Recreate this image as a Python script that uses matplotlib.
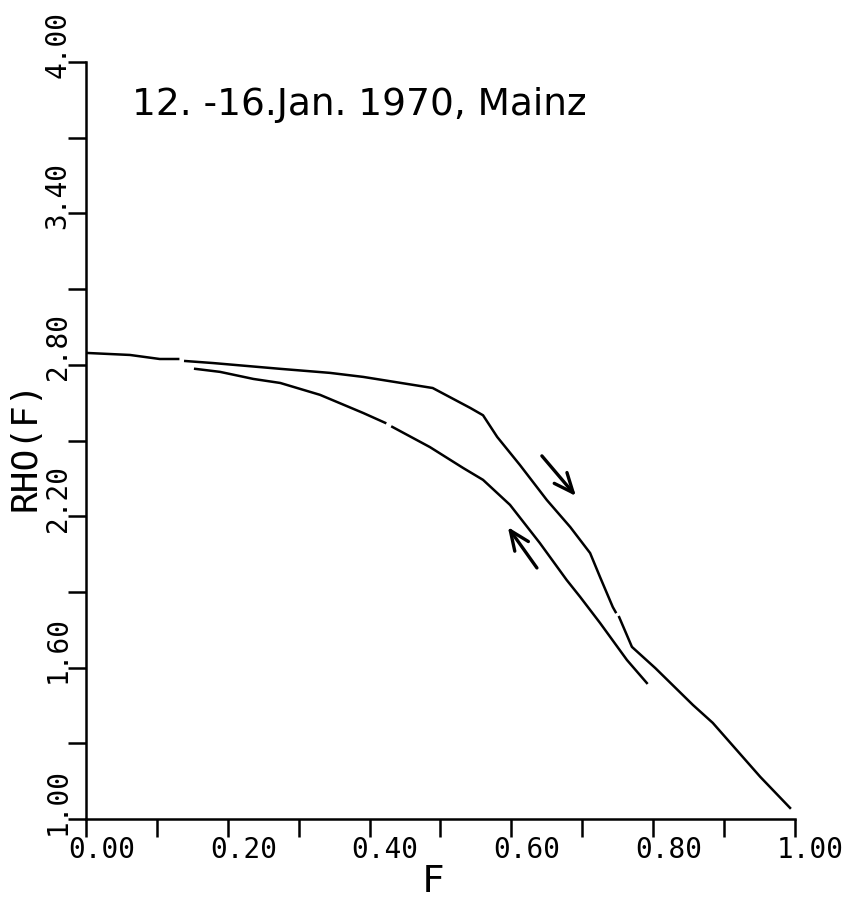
import numpy as np
import matplotlib
matplotlib.use("Agg")
import matplotlib.pyplot as plt
from matplotlib.transforms import blended_transform_factory

# curve going right (arrow down), NaN marks a pen gap
f_down = [0.001, 0.062, 0.104, 0.130, np.nan, 0.140, 0.179, 0.274, 0.344, 0.391,
          0.489, 0.542, 0.560, 0.580, 0.612, 0.650, 0.683, 0.711, 0.725, 0.743,
          0.747, np.nan, 0.752, 0.770, 0.803, 0.856, 0.884, 0.951, 0.993]
rho_down = [2.847, 2.839, 2.823, 2.823, np.nan, 2.815, 2.807, 2.784, 2.768, 2.752,
            2.708, 2.629, 2.600, 2.514, 2.403, 2.264, 2.157, 2.054, 1.959, 1.840,
            1.820, np.nan, 1.800, 1.682, 1.598, 1.452, 1.381, 1.167, 1.044]

# curve coming back (arrow up)
f_up = [0.154, 0.189, 0.236, 0.274, 0.330, 0.391, 0.422, np.nan, 0.432, 0.485,
        0.532, 0.560, 0.598, 0.640, 0.678, 0.697, 0.725, 0.763, 0.791]
rho_up = [2.784, 2.772, 2.744, 2.728, 2.681, 2.609, 2.570, np.nan, 2.554, 2.474,
          2.391, 2.344, 2.245, 2.094, 1.947, 1.880, 1.777, 1.630, 1.539]

# arrows (tail -> head)
arrow_down = [(0.643, 2.439), (0.691, 2.280)]
arrow_up = [(0.636, 1.995), (0.595, 2.157)]

x_labels = [0.0, 0.2, 0.4, 0.6, 0.8, 1.0]
y_labels = [1.0, 1.6, 2.2, 2.8, 3.4, 4.0]
title = "12. -16.Jan. 1970, Mainz"

fig = plt.figure(figsize=(8.53, 9.05), dpi=100)
ax = fig.add_axes([86 / 853, 1 - 819 / 905, (795 - 86) / 853, (819 - 62) / 905])

ax.plot(f_down, rho_down, color="black", lw=1.8)
ax.plot(f_up, rho_up, color="black", lw=1.8)

for (x0, y0), (x1, y1) in [arrow_down, arrow_up]:
    ax.annotate("", xy=(x1, y1), xytext=(x0, y0),
                arrowprops=dict(arrowstyle="->,head_length=0.7,head_width=0.3",
                                color="black", lw=2.4, mutation_scale=20,
                                shrinkA=0, shrinkB=0))

ax.set_xlim(0, 1)
ax.set_ylim(1, 4)
for s in ["top", "right"]:
    ax.spines[s].set_visible(False)
for s in ["left", "bottom"]:
    ax.spines[s].set_linewidth(1.8)

ax.set_xticks(np.arange(0, 1.01, 0.1))
ax.set_yticks(np.arange(1, 4.01, 0.3))
ax.tick_params(direction="out", length=13, width=1.8, labelbottom=False, labelleft=False)

mono = "DejaVu Sans Mono"
tx = blended_transform_factory(ax.transData, ax.transAxes)
for v in x_labels:
    ax.text(v + 0.022, -0.041, "%.2f" % v, transform=tx, ha="center", va="center",
            fontsize=20, family=mono, clip_on=False)

ty = blended_transform_factory(ax.transAxes, ax.transData)
for v in y_labels:
    ax.text(-0.040, v + 0.071, "%.2f" % v, transform=ty, ha="center", va="center",
            rotation=90, fontsize=20, family=mono, clip_on=False)

ax.text(0.49, -0.083, "F", transform=ax.transAxes, ha="center", va="center",
        fontsize=27, family=mono)
ax.text(-0.086, 2.48, "RHO(F)", transform=ty, ha="center", va="center",
        rotation=90, fontsize=26, family=mono)

ax.text(0.065, 3.79, title, ha="left", va="baseline", fontsize=27)

fig.savefig("out.png", dpi=100)
